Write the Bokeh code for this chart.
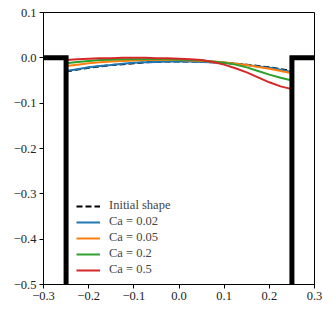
from bokeh.plotting import figure
from bokeh.models import Legend, LegendItem, FixedTicker, Range1d
from bokeh.embed import file_html
from bokeh.resources import INLINE

x = [-0.250, -0.225, -0.200, -0.175, -0.150, -0.125, -0.100, -0.075, -0.050, -0.025,
     0.000, 0.025, 0.050, 0.075, 0.100, 0.125, 0.150, 0.175, 0.200, 0.225, 0.250]
initial = [-0.030, -0.026, -0.022, -0.019, -0.016, -0.014, -0.012, -0.010, -0.009, -0.008,
           -0.008, -0.008, -0.009, -0.010, -0.011, -0.013, -0.015, -0.018, -0.021, -0.025, -0.029]
ca002 = [-0.029, -0.025, -0.021, -0.018, -0.016, -0.013, -0.011, -0.010, -0.009, -0.008,
         -0.008, -0.008, -0.009, -0.010, -0.011, -0.013, -0.016, -0.019, -0.022, -0.026, -0.031]
ca005 = [-0.018, -0.015, -0.012, -0.010, -0.008, -0.007, -0.006, -0.005, -0.005, -0.005,
         -0.005, -0.006, -0.007, -0.008, -0.010, -0.013, -0.016, -0.020, -0.024, -0.029, -0.034]
ca02 = [-0.012, -0.009, -0.007, -0.005, -0.004, -0.003, -0.003, -0.003, -0.003, -0.003,
        -0.004, -0.005, -0.006, -0.008, -0.011, -0.015, -0.021, -0.029, -0.037, -0.044, -0.050]
ca05 = [-0.005, -0.003, -0.002, -0.001, -0.001, 0.000, 0.000, 0.000, -0.001, -0.001,
        -0.002, -0.003, -0.005, -0.009, -0.015, -0.023, -0.032, -0.043, -0.054, -0.063, -0.069]

wall_left_x = [-0.3, -0.25, -0.25]
wall_left_y = [0.0, 0.0, -0.5]
wall_right_x = [0.25, 0.25, 0.3]
wall_right_y = [-0.5, 0.0, 0.0]

x_ticks = [-0.3, -0.2, -0.1, 0.0, 0.1, 0.2, 0.3]
x_labels = ["\u22120.3", "\u22120.2", "\u22120.1", "0.0", "0.1", "0.2", "0.3"]
y_ticks = [-0.5, -0.4, -0.3, -0.2, -0.1, 0.0, 0.1]
y_labels = ["\u22120.5", "\u22120.4", "\u22120.3", "\u22120.2", "\u22120.1", "0.0", "0.1"]

series = [
    ("Ca = 0.02", ca002, "#1f77b4"),
    ("Ca = 0.05", ca005, "#ff7f0e"),
    ("Ca = 0.2", ca02, "#2ca02c"),
    ("Ca = 0.5", ca05, "#d62728"),
]

FONT = "Liberation Serif"

p = figure(width=326, height=302, output_backend="svg", toolbar_location=None,
           x_range=Range1d(-0.3, 0.3), y_range=Range1d(-0.5, 0.1),
           min_border_left=43, min_border_right=12, min_border_top=12, min_border_bottom=4)
p.grid.visible = False
p.outline_line_color = "black"
p.outline_line_width = 1
p.background_fill_color = "white"

items = []
r0 = p.line(x, initial, line_color="black", line_width=2, line_dash="6 3")
items.append(LegendItem(label="Initial shape", renderers=[r0]))
for name, ys, col in series:
    r = p.line(x, ys, line_color=col, line_width=2)
    items.append(LegendItem(label=name, renderers=[r]))

p.line(wall_left_x, wall_left_y, line_color="black", line_width=5, line_join="miter")
p.line(wall_right_x, wall_right_y, line_color="black", line_width=5, line_join="miter")

p.xaxis.ticker = FixedTicker(ticks=x_ticks)
p.yaxis.ticker = FixedTicker(ticks=y_ticks)
p.xaxis.major_label_overrides = dict(zip(x_ticks, x_labels))
p.yaxis.major_label_overrides = dict(zip(y_ticks, y_labels))
for ax in (p.xaxis[0], p.yaxis[0]):
    ax.minor_tick_line_color = None
    ax.major_tick_out = 4
    ax.major_tick_in = 0
    ax.axis_line_color = "black"
    ax.major_tick_line_color = "black"
    ax.major_label_text_font = FONT
    ax.major_label_text_font_size = "12.5px"
    ax.major_label_text_color = "#222222"
    ax.major_label_standoff = 3

legend = Legend(items=items, location=(27, 1))
legend.background_fill_alpha = 0
legend.border_line_alpha = 0
legend.label_text_font = FONT
legend.label_text_font_size = "12.5px"
legend.label_height = 14
legend.glyph_height = 14
legend.glyph_width = 24
legend.spacing = 1
legend.padding = 6
legend.label_standoff = 9
p.add_layout(legend, "center")

open("out.html", "w").write(file_html(p, INLINE))
